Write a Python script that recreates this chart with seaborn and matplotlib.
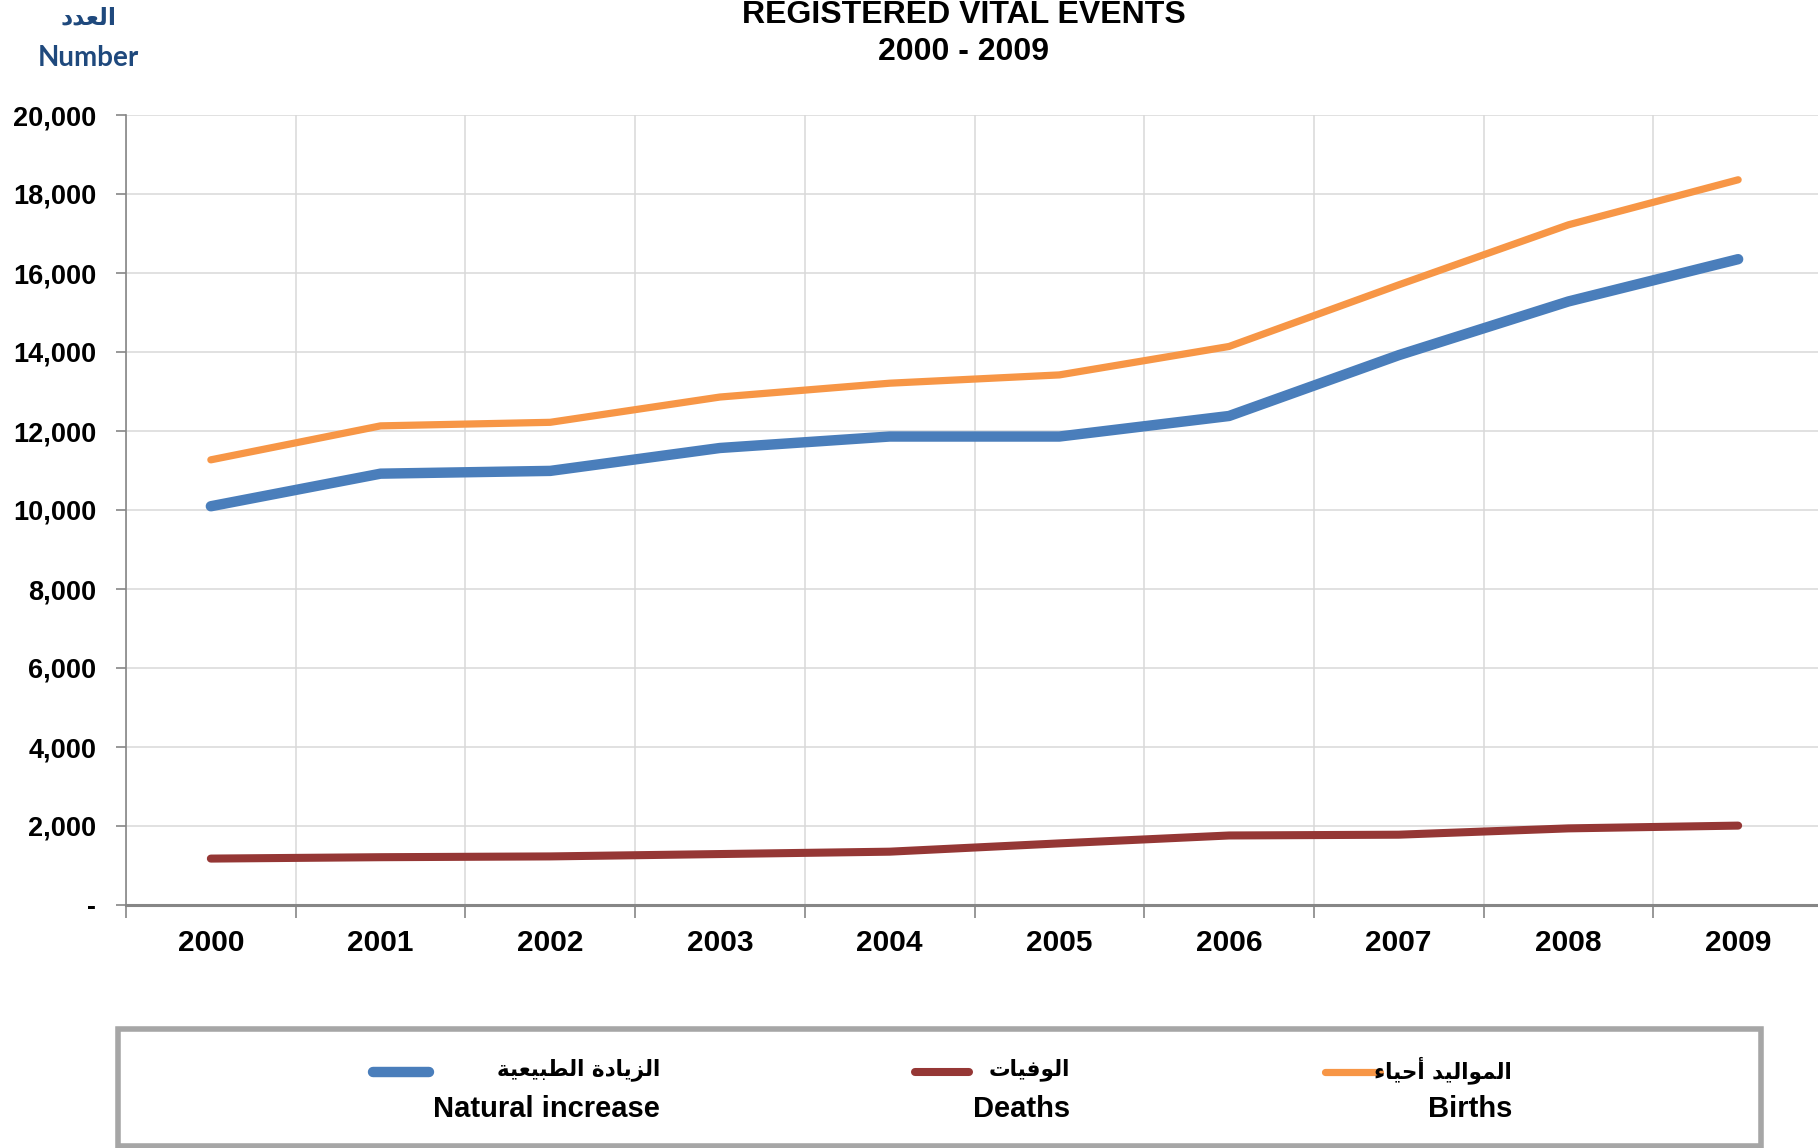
import matplotlib
matplotlib.use("Agg")
import matplotlib.pyplot as plt
import seaborn as sns
import pandas as pd
from matplotlib.lines import Line2D
from matplotlib.patches import Rectangle
from matplotlib.ticker import FixedLocator, FuncFormatter, NullFormatter

# ---------------- data ----------------
years = [2000, 2001, 2002, 2003, 2004, 2005, 2006, 2007, 2008, 2009]
natural_increase = [10095, 10920, 10990, 11570, 11860, 11860, 12380, 13920, 15280, 16350]
deaths = [1175, 1210, 1230, 1290, 1350, 1560, 1760, 1780, 1940, 2010]
births = [11270, 12130, 12220, 12860, 13210, 13420, 14140, 15700, 17220, 18360]

series_en = ["Natural increase", "Deaths", "Births"]
series_ar = ["الزيادة الطبيعية", "الوفيات", "المواليد أحياء"]
y_ticks = [0, 2000, 4000, 6000, 8000, 10000, 12000, 14000, 16000, 18000, 20000]

title_lines = ["REGISTERED VITAL EVENTS", "2000 - 2009"]
ylabel_ar = "العدد"
ylabel_en = "Number"

colors = ["#4A7EBB", "#953735", "#F79646"]
widths = [7.5, 5.8, 5.2]

# ------------- simple Arabic shaping (presentation forms, visual order) -------------
FORMS = {
    'ا': ('\uFE8D', '\uFE8E', None, None),
    'أ': ('\uFE83', '\uFE84', None, None),
    'ل': ('\uFEDD', '\uFEDE', '\uFEDF', '\uFEE0'),
    'ع': ('\uFEC9', '\uFECA', '\uFECB', '\uFECC'),
    'د': ('\uFEA9', '\uFEAA', None, None),
    'ز': ('\uFEAF', '\uFEB0', None, None),
    'ي': ('\uFEF1', '\uFEF2', '\uFEF3', '\uFEF4'),
    'ة': ('\uFE93', '\uFE94', None, None),
    'ط': ('\uFEC1', '\uFEC2', '\uFEC3', '\uFEC4'),
    'ب': ('\uFE8F', '\uFE90', '\uFE91', '\uFE92'),
    'و': ('\uFEED', '\uFEEE', None, None),
    'ف': ('\uFED1', '\uFED2', '\uFED3', '\uFED4'),
    'ت': ('\uFE95', '\uFE96', '\uFE97', '\uFE98'),
    'م': ('\uFEE1', '\uFEE2', '\uFEE3', '\uFEE4'),
    'ح': ('\uFEA1', '\uFEA2', '\uFEA3', '\uFEA4'),
    'ء': ('\uFE80', None, None, None),
}


def shape(text):
    chars = list(text)
    out = []
    for i, c in enumerate(chars):
        if c not in FORMS:
            out.append(c)
            continue
        iso, fin, ini, med = FORMS[c]
        prev = chars[i - 1] if i > 0 else None
        nxt = chars[i + 1] if i + 1 < len(chars) else None
        jp = prev in FORMS and FORMS[prev][2] is not None and fin is not None
        jn = ini is not None and nxt in FORMS and FORMS[nxt][1] is not None
        if jp and jn:
            out.append(med)
        elif jp:
            out.append(fin)
        elif jn:
            out.append(ini)
        else:
            out.append(iso)
    return "".join(reversed(out))


# ---------------- figure ----------------
sns.set_style("white")
plt.rcParams["font.family"] = ["Liberation Sans", "DejaVu Sans"]
plt.rcParams["text.color"] = "black"
plt.rcParams["xtick.color"] = "black"
plt.rcParams["ytick.color"] = "black"

W, H = 1818, 1148
fig = plt.figure(figsize=(W / 100, H / 100), dpi=100)
ax_left, ax_right, ax_top, ax_bot = 126, 1823, 115, 905
ax = fig.add_axes([ax_left / W, 1 - ax_bot / H, (ax_right - ax_left) / W, (ax_bot - ax_top) / H])

df = pd.DataFrame({"year": years, series_en[0]: natural_increase,
                   series_en[1]: deaths, series_en[2]: births})
for name, col, lw in zip(series_en, colors, widths):
    sns.lineplot(data=df, x="year", y=name, ax=ax, color=col, linewidth=lw,
                 solid_capstyle="round", solid_joinstyle="round", zorder=3)

ax.set_xlim(years[0] - 0.5, years[-1] + 0.5)
ax.set_ylim(0, 20000)
ax.set_xlabel("")
ax.set_ylabel("")

# x: boundary ticks (marks + grid), labels at centers
bounds = [y - 0.5 for y in years]
ax.xaxis.set_major_locator(FixedLocator(bounds))
ax.xaxis.set_major_formatter(NullFormatter())
ax.xaxis.set_minor_locator(FixedLocator(years))
ax.xaxis.set_minor_formatter(FuncFormatter(lambda v, p: str(int(round(v)))))
ax.tick_params(axis="x", which="major", direction="out", length=9, width=1.2,
               color="#868686", bottom=True)
ax.tick_params(axis="x", which="minor", length=0, pad=17.5, labelsize=21.5,
               labelcolor="black")

ax.yaxis.set_major_locator(FixedLocator(y_ticks))
ax.yaxis.set_major_formatter(FuncFormatter(lambda v, p: "-" if v == 0 else f"{int(v):,}"))
ax.tick_params(axis="y", direction="out", length=7, width=1.2, color="#868686",
               pad=14.5, labelsize=19.5, left=True, labelcolor="black")
for lab in ax.get_xticklabels(minor=True) + ax.get_yticklabels():
    lab.set_fontweight("bold")

ax.grid(True, which="major", axis="both", color="#D9D9D9", linewidth=1.1, zorder=0)
ax.set_axisbelow(True)
for s in ["top", "right"]:
    ax.spines[s].set_visible(False)
ax.spines["left"].set_color("#868686")
ax.spines["left"].set_linewidth(1.2)
ax.spines["bottom"].set_color("#868686")
ax.spines["bottom"].set_linewidth(2.2)

# titles
fig.text(964 / W, 1 - 15 / H, title_lines[0], ha="center", va="center",
         fontsize=23, fontweight="bold", color="black")
fig.text(964 / W, 1 - 52 / H, title_lines[1], ha="center", va="center",
         fontsize=23, fontweight="bold", color="black")

# axis unit label
fig.text(88 / W, 1 - 17 / H, shape(ylabel_ar), ha="center", va="center",
         fontsize=17, fontweight="bold", color="#1F497D", family=["DejaVu Sans"])
fig.text(88 / W, 1 - 58 / H, ylabel_en, ha="center", va="center",
         fontsize=20, fontweight="bold", color="#1F497D", family=["Lato", "DejaVu Sans"])

# legend box
fig.patches.append(Rectangle((118 / W, 1 - 1146 / H), (1761 - 118) / W, (1146 - 1029) / H,
                             transform=fig.transFigure, facecolor="white",
                             edgecolor="#A6A6A6", linewidth=4, zorder=1))
handle_x = [(373, 429), (915, 969), (1325, 1380)]
text_right = [660, 1070, 1512]
for i in range(3):
    x0, x1 = handle_x[i]
    fig.add_artist(Line2D([x0 / W, x1 / W], [1 - 1072 / H, 1 - 1072 / H],
                          transform=fig.transFigure, color=colors[i],
                          linewidth=widths[i], solid_capstyle="round", zorder=2))
    fig.text(text_right[i] / W, 1 - 1070 / H, shape(series_ar[i]), ha="right", va="center",
             fontsize=15.5, fontweight="bold", family=["DejaVu Sans"], color="black", zorder=3)
    fig.text(text_right[i] / W, 1 - 1109 / H, series_en[i], ha="right", va="center",
             fontsize=21, fontweight="bold", color="black", zorder=3)

fig.savefig("out.png", dpi=100)
